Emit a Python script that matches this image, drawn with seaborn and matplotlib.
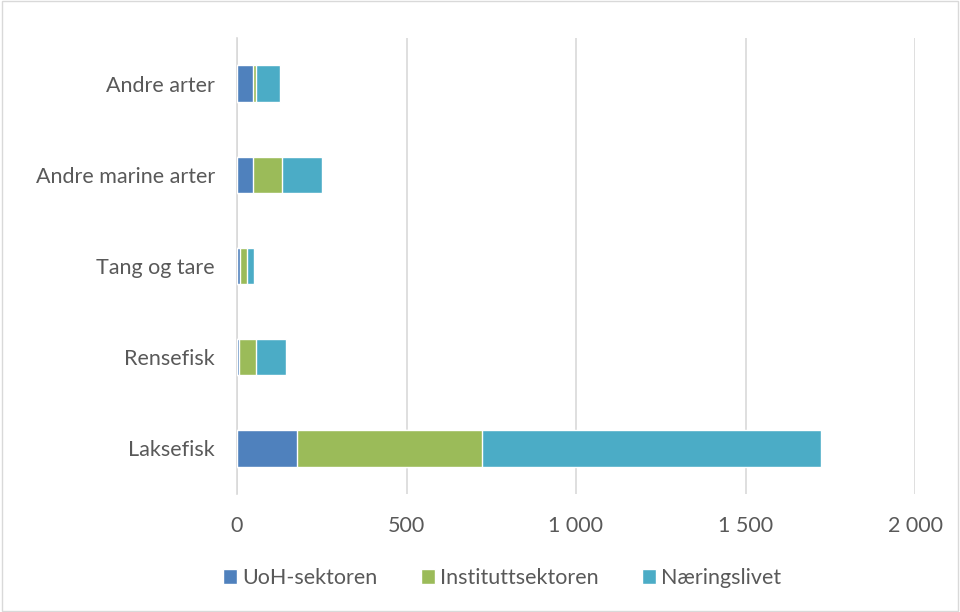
import numpy as np
import pandas as pd
import matplotlib
matplotlib.use("Agg")
import matplotlib.pyplot as plt
import seaborn as sns
from matplotlib.ticker import FuncFormatter
from matplotlib.patches import Patch, Rectangle

# Data
arter = ["Andre arter", "Andre marine arter", "Tang og tare", "Rensefisk", "Laksefisk"]
uoh = [46, 48, 9, 5, 178]
institutt = [10, 84, 20, 50, 545]
naering = [72, 119, 21, 89, 1000]
serier = ["UoH-sektoren", "Instituttsektoren", "Næringslivet"]
farger = ["#4F81BD", "#9BBB59", "#4BACC6"]

df = pd.DataFrame({"Art": arter, "UoH": uoh, "Inst": institutt, "Naer": naering})
df["c1"] = df["UoH"]
df["c2"] = df["c1"] + df["Inst"]
df["c3"] = df["c2"] + df["Naer"]

sns.set_style("white")
plt.rcParams["font.family"] = ["Lato", "DejaVu Sans"]
tekstfarge = "#595959"

fig = plt.figure(figsize=(9.6, 6.12), dpi=100)
ax = fig.add_axes([237 / 960, 1 - 494 / 612, (915 - 237) / 960, (494 - 38) / 612])

# Stablede stolper: tegn kumulative summer, største først
for kol, farge in zip(["c3", "c2", "c1"], farger[::-1]):
    sns.barplot(data=df, x=kol, y="Art", order=arter, orient="h",
                color=farge, width=0.4, saturation=1, ax=ax, zorder=3)

ax.set_xlim(0, 2000)
ax.set_xticks(np.arange(0, 2001, 500))
ax.xaxis.set_major_formatter(FuncFormatter(lambda v, p: f"{int(v):,}".replace(",", " ")))
ax.grid(axis="x", color="#D9D9D9", linewidth=1.2, zorder=0)
ax.grid(axis="y", visible=False)
for s in ["top", "right", "bottom"]:
    ax.spines[s].set_visible(False)
ax.spines["left"].set_color("#D9D9D9")
ax.spines["left"].set_linewidth(1.2)
ax.set_xlabel("")
ax.set_ylabel("")
ax.tick_params(axis="both", length=0, labelsize=15.5, colors=tekstfarge)
ax.tick_params(axis="y", pad=16)
ax.tick_params(axis="x", pad=16)

handles = [Patch(facecolor=f, label=n) for f, n in zip(farger, serier)]
fig.legend(handles=handles, loc="center", bbox_to_anchor=(0.523, 1 - 578 / 612), ncol=3,
           frameon=False, fontsize=15.5, labelcolor=tekstfarge, handlelength=0.65,
           handleheight=0.65, handletextpad=0.25, columnspacing=2.0)

fig.patches.append(Rectangle((0.002, 0.002), 0.996, 0.996, transform=fig.transFigure,
                             fill=False, edgecolor="#D9D9D9", linewidth=1))

fig.savefig("out.png", dpi=100)
